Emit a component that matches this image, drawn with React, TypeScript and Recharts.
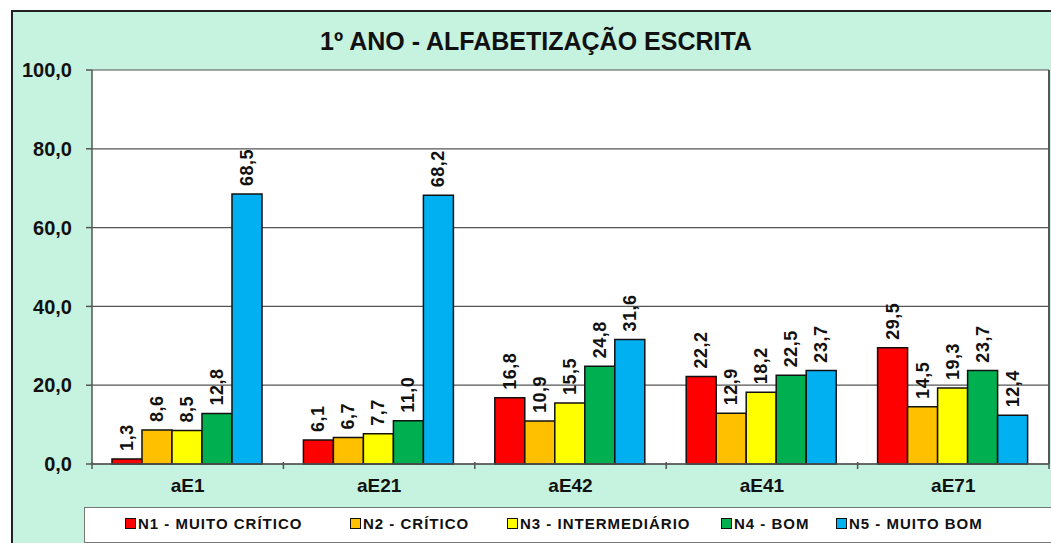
import { BarChart, Bar, XAxis, YAxis, CartesianGrid, LabelList } from "recharts";

const categories = ["aE1", "aE21", "aE42", "aE41", "aE71"];
const n1 = [1.3, 6.1, 16.8, 22.2, 29.5];
const n2 = [8.6, 6.7, 10.9, 12.9, 14.5];
const n3 = [8.5, 7.7, 15.5, 18.2, 19.3];
const n4 = [12.8, 11.0, 24.8, 22.5, 23.7];
const n5 = [68.5, 68.2, 31.6, 23.7, 12.4];
const yTicks = [0, 20, 40, 60, 80, 100];

const SERIES = [
  { key: "n1", name: "N1 - MUITO CRÍTICO", color: "#ff0000" },
  { key: "n2", name: "N2 - CRÍTICO", color: "#ffc000" },
  { key: "n3", name: "N3 - INTERMEDIÁRIO", color: "#ffff00" },
  { key: "n4", name: "N4 - BOM", color: "#00b050" },
  { key: "n5", name: "N5 - MUITO BOM", color: "#00b0f0" },
];

const data = categories.map((cat, i) => ({
  cat,
  n1: n1[i],
  n2: n2[i],
  n3: n3[i],
  n4: n4[i],
  n5: n5[i],
}));

const FONT = "'Liberation Sans', Arial, sans-serif";
const fmt = (v: number) => v.toFixed(1).replace(".", ",");

const BAND = 957 / 5;

function ValueLabel(props: any) {
  const { x, y, width, value } = props;
  const cx = x + width / 2;
  const ty = y - 8;
  return (
    <text
      x={cx}
      y={ty}
      transform={`rotate(-90, ${cx}, ${ty})`}
      textAnchor="start"
      dominantBaseline="central"
      fontFamily={FONT}
      fontWeight="bold"
      fontSize={18}
      letterSpacing={0.5}
      fill="#111"
    >
      {fmt(value)}
    </text>
  );
}

function CatTick(props: any) {
  const { x, y, payload, index } = props;
  return (
    <g>
      <line x1={x - BAND / 2} y1={y - 8} x2={x - BAND / 2} y2={y - 1} stroke="#555" strokeWidth={1.5} />
      {index === categories.length - 1 && (
        <line x1={x + BAND / 2} y1={y - 8} x2={x + BAND / 2} y2={y - 1} stroke="#555" strokeWidth={1.5} />
      )}
      <text x={x} y={y + 22} textAnchor="middle" fontFamily={FONT} fontWeight="bold" fontSize={19} fill="#111">
        {payload.value}
      </text>
    </g>
  );
}

function LegendBox() {
  return (
    <div
      style={{
        position: "absolute",
        left: 84,
        top: 507,
        width: 1000,
        height: 34,
        background: "#fff",
        border: "1.5px solid #777",
        fontFamily: FONT,
        fontWeight: "bold",
        fontSize: 15,
        color: "#111",
        letterSpacing: 1,
      }}
    >
      {SERIES.map((s, i) => (
        <div
          key={s.key}
          style={{
            display: "flex",
            alignItems: "center",
            position: "absolute",
            top: 7,
            left: [40, 265, 422, 636, 751][i],
          }}
        >
          <span
            style={{
              display: "inline-block",
              width: 9,
              height: 9,
              background: s.color,
              border: "1.5px solid #111",
              marginRight: 2,
            }}
          />
          {s.name}
        </div>
      ))}
    </div>
  );
}

export default function App() {
  return (
    <div style={{ position: "absolute", left: 0, top: 0, width: 1051, height: 543, background: "#fff", overflow: "hidden" }}>
      <div
        style={{
          position: "absolute",
          left: 11,
          top: 10,
          width: 1060,
          height: 560,
          background: "#c6f3df",
          borderTop: "2px solid #222",
          borderLeft: "2px solid #222",
        }}
      />
      <div
        style={{
          position: "absolute",
          left: 0,
          top: 27,
          width: 1072,
          textAlign: "center",
          fontFamily: FONT,
          fontWeight: "bold",
          fontSize: 25,
          color: "#111",
        }}
      >
        1º ANO - ALFABETIZAÇÃO ESCRITA
      </div>
      <div style={{ position: "absolute", left: 0, top: 0 }}>
        <BarChart
          width={1051}
          height={543}
          data={data}
          margin={{ top: 70, right: 2, bottom: 29, left: 0 }}
          barCategoryGap={20}
          barGap={0}
        >
          <CartesianGrid vertical={false} fill="#fff" stroke="#555" strokeWidth={1.2} />
          <XAxis
            dataKey="cat"
            stroke="#555"
            strokeWidth={1.5}
            tickLine={false}
            tick={<CatTick />}
            tickMargin={0}
            height={50}
            interval={0}
          />
          <YAxis
            domain={[0, 100]}
            ticks={yTicks}
            width={92}
            stroke="#555"
            strokeWidth={1.5}
            tickSize={6}
            tickMargin={14}
            tickFormatter={(v) => fmt(v)}
            tick={{ fontFamily: FONT, fontWeight: "bold", fontSize: 20, fill: "#111" }}
            interval={0}
          />
          {SERIES.map((s) => (
            <Bar
              key={s.key}
              dataKey={s.key}
              name={s.name}
              fill={s.color}
              stroke="#111"
              strokeWidth={1.5}
              isAnimationActive={false}
            >
              <LabelList dataKey={s.key} content={<ValueLabel />} />
            </Bar>
          ))}
        </BarChart>
      </div>
      <LegendBox />
      <div style={{ position: "absolute", left: 1048, top: 70, width: 2, height: 394, background: "#555" }} />
    </div>
  );
}
